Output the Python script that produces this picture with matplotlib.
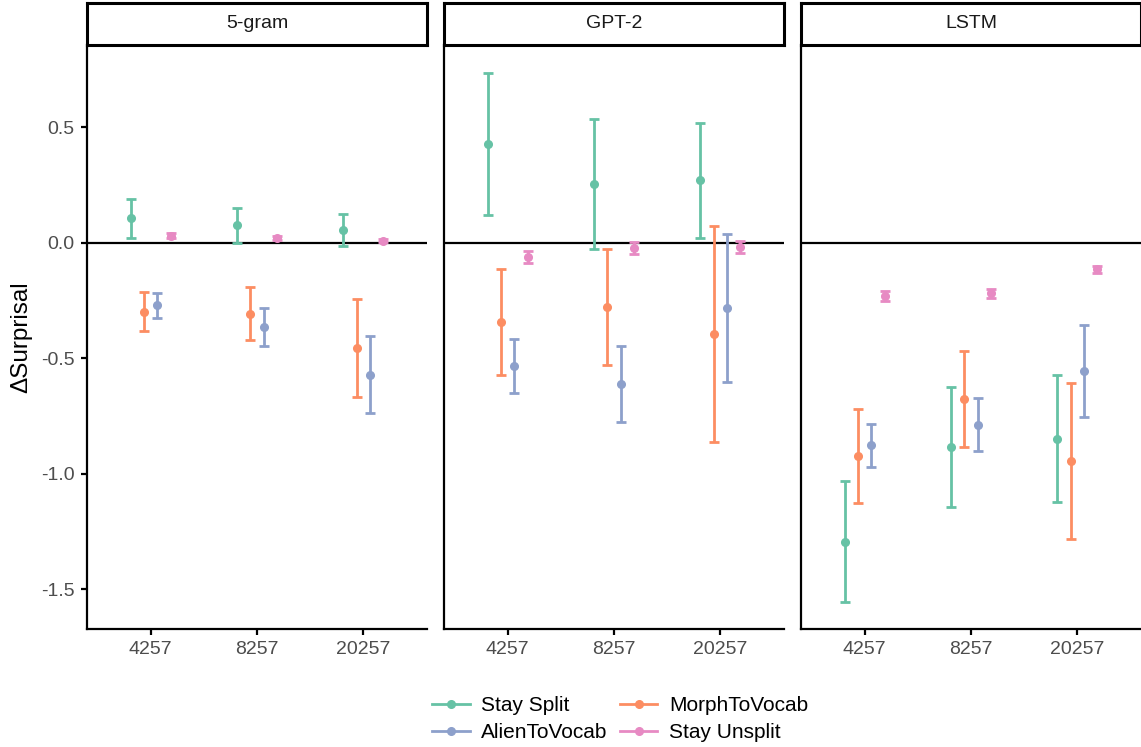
#!/usr/bin/env python3

import numpy as np
from matplotlib import pyplot as plt
from matplotlib.lines import Line2D

plt.rcParams['font.family'] = ['Liberation Sans', 'DejaVu Sans']

# ---------------------------------------------------------------- data
models = ['5-gram', 'GPT-2', 'LSTM']
vocab_sizes = ['4257', '8257', '20257']
conditions = ['Stay Split', 'MorphToVocab', 'AlienToVocab', 'Stay Unsplit']

# rows = models, columns = vocab sizes
mean_stay_split = [[0.106, 0.074, 0.055],
                   [0.426, 0.255, 0.269],
                   [-1.295, -0.884, -0.851]]
lo_stay_split = [[0.021, 0.000, -0.014],
                 [0.120, -0.028, 0.018],
                 [-1.558, -1.144, -1.125]]
hi_stay_split = [[0.190, 0.151, 0.125],
                 [0.732, 0.536, 0.519],
                 [-1.032, -0.624, -0.575]]

mean_morph = [[-0.300, -0.310, -0.458],
              [-0.344, -0.279, -0.396],
              [-0.923, -0.677, -0.946]]
lo_morph = [[-0.384, -0.423, -0.667],
            [-0.574, -0.529, -0.864],
            [-1.126, -0.884, -1.284]]
hi_morph = [[-0.216, -0.194, -0.246],
            [-0.113, -0.029, 0.071],
            [-0.721, -0.470, -0.608]]

mean_alien = [[-0.272, -0.364, -0.572],
              [-0.533, -0.614, -0.284],
              [-0.878, -0.790, -0.556]]
lo_alien = [[-0.327, -0.447, -0.738],
            [-0.650, -0.778, -0.602],
            [-0.970, -0.904, -0.754]]
hi_alien = [[-0.217, -0.284, -0.405],
            [-0.416, -0.448, 0.037],
            [-0.786, -0.672, -0.358]]

mean_stay_unsplit = [[0.030, 0.021, 0.008],
                     [-0.063, -0.024, -0.019],
                     [-0.231, -0.220, -0.116]]
lo_stay_unsplit = [[0.020, 0.013, 0.002],
                   [-0.089, -0.048, -0.044],
                   [-0.252, -0.240, -0.131]]
hi_stay_unsplit = [[0.040, 0.029, 0.014],
                   [-0.037, 0.001, 0.005],
                   [-0.211, -0.200, -0.101]]

means = [mean_stay_split, mean_morph, mean_alien, mean_stay_unsplit]
lows = [lo_stay_split, lo_morph, lo_alien, lo_stay_unsplit]
highs = [hi_stay_split, hi_morph, hi_alien, hi_stay_unsplit]

colors = ['#66c2a5', '#fc8d62', '#8da0cb', '#e78ac3']
offsets = [-0.1875, -0.0625, 0.0625, 0.1875]

# ---------------------------------------------------------------- figure
W, H = 1141, 747
fig = plt.figure(figsize=(W/100, H/100), dpi=100)

panel_left = [87, 444, 801]
panel_width = 340
panel_top, panel_bottom = 45, 629
strip_top = 3

x = np.arange(len(vocab_sizes))
for m, model in enumerate(models):
	ax = fig.add_axes([panel_left[m]/W, 1 - panel_bottom/H,
					   panel_width/W, (panel_bottom - panel_top)/H])
	ax.axhline(0, color='black', linewidth=1.6, zorder=1)
	for c, cond in enumerate(conditions):
		mu = np.array(means[c][m])
		lo = np.array(lows[c][m])
		hi = np.array(highs[c][m])
		ax.errorbar(x + offsets[c], mu,
					yerr=[mu - lo, hi - mu],
					color=colors[c], ecolor=colors[c],
					fmt='o', markersize=5.5,
					elinewidth=2.0, capsize=3.5, capthick=2.0,
					zorder=3)
	ax.set_xlim(-0.6, 2.6)
	ax.set_ylim(-1.673, 0.855)
	ax.set_xticks(x)
	ax.set_xticklabels(vocab_sizes)
	ax.set_yticks([-1.5, -1.0, -0.5, 0.0, 0.5])
	ax.set_yticklabels(['-1.5', '-1.0', '-0.5', '0.0', '0.5'])
	for side in ['top', 'right']:
		ax.spines[side].set_visible(False)
	for side in ['left', 'bottom']:
		ax.spines[side].set_linewidth(1.6)
	ax.tick_params(axis='both', colors='black', labelcolor='#4d4d4d',
				   labelsize=14, length=4.5, width=1.6)
	ax.tick_params(axis='y', pad=4.5)
	ax.tick_params(axis='x', pad=4)
	if m > 0:
		ax.tick_params(axis='y', left=False, labelleft=False)
	else:
		ax.set_ylabel('ΔSurprisal', fontsize=17.5, labelpad=6)

	# facet strip
	sx = fig.add_axes([panel_left[m]/W, 1 - panel_top/H,
					   panel_width/W, (panel_top - strip_top)/H])
	sx.set_xticks([])
	sx.set_yticks([])
	for side in sx.spines.values():
		side.set_linewidth(2.2)
	sx.text(0.5, 0.5, model, ha='center', va='center',
			fontsize=14, color='#1a1a1a', transform=sx.transAxes)

# legend
handles = []
for c, cond in enumerate(conditions):
	handles.append(Line2D([0], [0], color=colors[c], linewidth=2,
						  marker='o', markersize=5.5, label=cond))
order = [0, 2, 1, 3]
fig.legend([handles[i] for i in order], [conditions[i] for i in order],
		   ncol=2, loc='center', bbox_to_anchor=(620/W, 1 - 719/H),
		   frameon=False, fontsize=15, handlelength=1.8,
		   handletextpad=0.55, columnspacing=0.6, labelspacing=0.4)

fig.savefig('out.png', dpi=100)
plt.close(fig)
